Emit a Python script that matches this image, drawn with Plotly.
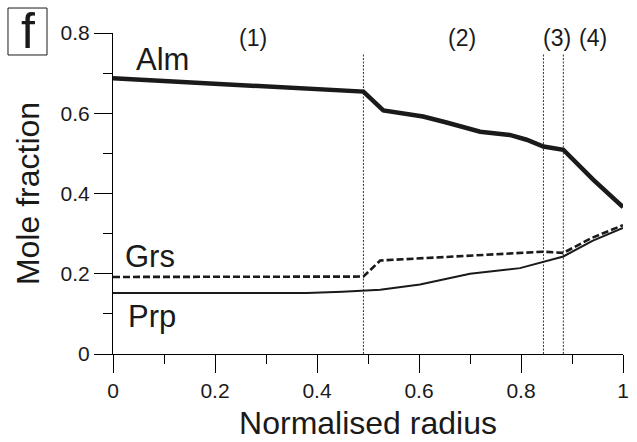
import plotly.graph_objects as go

# ---- data ----
alm_x = [0, 0.1, 0.2, 0.3, 0.4, 0.491, 0.530, 0.608, 0.654, 0.720, 0.778, 0.811, 0.844, 0.883, 0.942, 1.0]
alm_y = [0.687, 0.680, 0.672, 0.665, 0.658, 0.654, 0.607, 0.592, 0.577, 0.554, 0.546, 0.534, 0.517, 0.509, 0.434, 0.366]

grs_x = [0, 0.491, 0.524, 0.6, 0.7, 0.844, 0.883, 0.94, 1.0]
grs_y = [0.192, 0.193, 0.233, 0.238, 0.245, 0.255, 0.252, 0.290, 0.321]

prp_x = [0, 0.38, 0.45, 0.504, 0.524, 0.602, 0.700, 0.798, 0.844, 0.883, 0.94, 1.0]
prp_y = [0.152, 0.152, 0.155, 0.158, 0.160, 0.173, 0.200, 0.214, 0.229, 0.243, 0.282, 0.314]

zone_bounds = [0.491, 0.844, 0.883]
zone_top = 0.75
zone_labels = ["(1)", "(2)", "(3)", "(4)"]
zone_label_x = [0.274, 0.684, 0.870, 0.942]

FONT = "Arial, Liberation Sans, sans-serif"
INK = "#1a1a1a"

fig = go.Figure()

for b in zone_bounds:
    fig.add_trace(go.Scatter(x=[b, b], y=[0, zone_top], mode="lines",
                             line=dict(color="#333333", width=1, dash="2px,1.5px"),
                             hoverinfo="skip", showlegend=False))

fig.add_trace(go.Scatter(x=prp_x, y=prp_y, mode="lines", name="Prp",
                         line=dict(color=INK, width=2), showlegend=False))
fig.add_trace(go.Scatter(x=grs_x, y=grs_y, mode="lines", name="Grs",
                         line=dict(color=INK, width=2.6, dash="7px,3px"), showlegend=False))
fig.add_trace(go.Scatter(x=alm_x, y=alm_y, mode="lines", name="Alm",
                         line=dict(color=INK, width=4.5), showlegend=False))

annots = []
for lab, lx in zip(zone_labels, zone_label_x):
    annots.append(dict(x=lx, y=0.788, xref="x", yref="y", text=lab, showarrow=False,
                       font=dict(family=FONT, size=23, color=INK), xanchor="center", yanchor="middle"))
for lab, lx, ly in [("Alm", 0.098, 0.733), ("Grs", 0.073, 0.243), ("Prp", 0.077, 0.094)]:
    annots.append(dict(x=lx, y=ly, xref="x", yref="y", text=lab, showarrow=False,
                       font=dict(family=FONT, size=31, color=INK), xanchor="center", yanchor="middle"))
annots.append(dict(x=-0.1676, y=1.0047, xref="paper", yref="paper", text="f", showarrow=False,
                   font=dict(family=FONT, size=50, color=INK), xanchor="center", yanchor="middle"))

fig.update_layout(
    template="none",
    width=637, height=442,
    margin=dict(l=113, r=14, t=33, b=88),
    paper_bgcolor="white", plot_bgcolor="white",
    font=dict(family=FONT, color=INK),
    annotations=annots,
    shapes=[dict(type="rect", xref="paper", yref="paper",
                 x0=-0.2059, x1=-0.1294, y0=0.9315, y1=1.0778,
                 line=dict(color=INK, width=1))],
)

minor = dict(ticks="outside", ticklen=9, tickwidth=1.2, tickcolor="black", dtick=0.1, showgrid=False)

fig.update_xaxes(range=[0, 1], dtick=0.2, tick0=0, automargin=False,
                 showgrid=False, zeroline=False, showline=True, linecolor="black", linewidth=1.2,
                 ticks="outside", ticklen=18, tickwidth=1.2, tickcolor="black",
                 tickfont=dict(family=FONT, size=21, color=INK),
                 minor=minor,
                 title=dict(text="Normalised radius", font=dict(family=FONT, size=32, color=INK), standoff=10))
fig.update_yaxes(range=[0, 0.8], dtick=0.2, tick0=0, automargin=False,
                 showgrid=False, zeroline=False, showline=True, linecolor="black", linewidth=1.2,
                 ticks="outside", ticklen=18, tickwidth=1.2, tickcolor="black",
                 tickfont=dict(family=FONT, size=21, color=INK),
                 minor=minor,
                 title=dict(text="Mole fraction", font=dict(family=FONT, size=32, color=INK), standoff=11))

fig.write_html("out.html")
